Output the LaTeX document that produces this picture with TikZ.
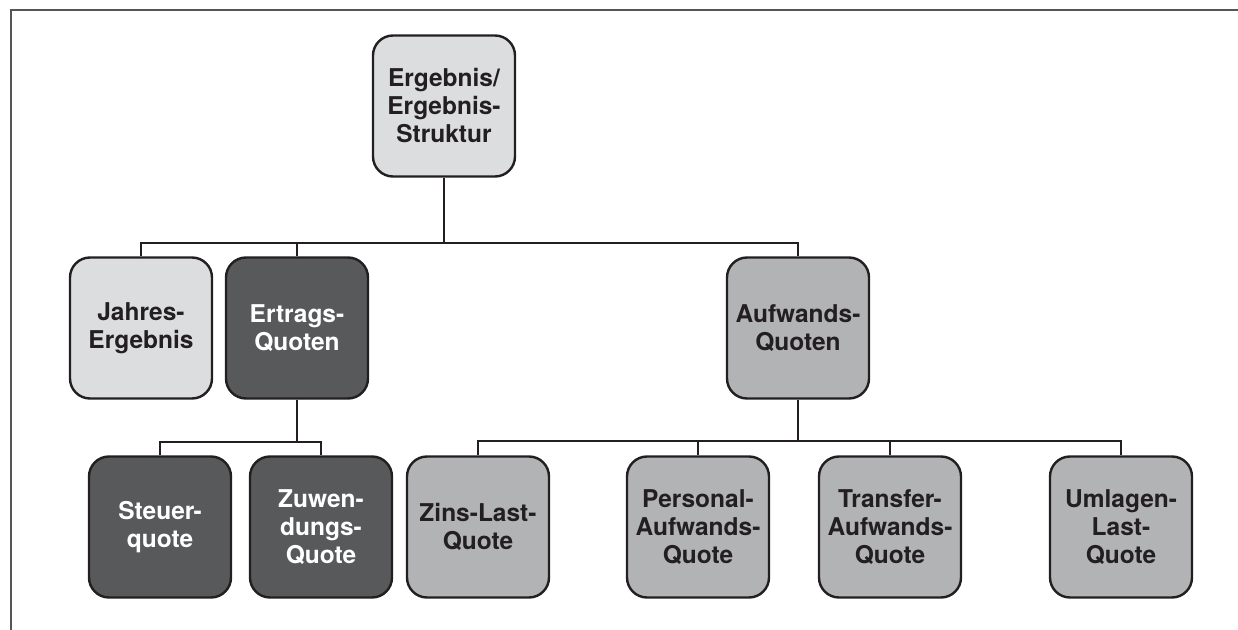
\documentclass[tikz,border=0pt]{standalone}
\usepackage{fontspec}
\setmainfont{TeX Gyre Heros}
\definecolor{lightbox}{HTML}{DCDDDE}
\definecolor{midbox}{HTML}{B2B3B5}
\definecolor{darkbox}{HTML}{58595B}
\definecolor{ink}{HTML}{231F20}
\definecolor{framecol}{HTML}{555555}
\begin{document}
\begin{tikzpicture}[x=1bp,y=-1bp,
  box/.style={draw=ink, line width=2.4bp, rounded corners=20bp,
    minimum width=142bp, minimum height=141bp, inner sep=2bp,
    align=center, font=\fontsize{24.5bp}{28bp}\selectfont\bfseries},
  lightnode/.style={box, fill=lightbox, text=ink},
  midnode/.style={box, fill=midbox, text=ink},
  darknode/.style={box, fill=darkbox, text=white},
  conn/.style={draw=ink, line width=2bp},
  framerule/.style={draw=framecol, line width=1.8bp}]
\useasboundingbox (0,0) rectangle (1238,630);
\draw[framerule] (11,630) -- (11,10) -- (1238,10);

\node[lightnode] (top) at (444,106) {Ergebnis/\\Ergebnis-\\Struktur};

\node[lightnode] (jahres) at (141,328) {Jahres-\\Ergebnis};
\node[darknode] (ertrags) at (297,328) {Ertrags-\\Quoten};
\node[midnode] (aufwands) at (798,328) {Aufwands-\\Quoten};

\node[darknode] (steuer) at (160,527) {Steuer-\\quote};
\node[darknode] (zuwend) at (321,527) {Zuwen-\\dungs-\\Quote};
\node[midnode] (zins) at (478,527) {Zins-Last-\\Quote};
\node[midnode] (personal) at (698,527) {Personal-\\Aufwands-\\Quote};
\node[midnode] (transfer) at (890,527) {Transfer-\\Aufwands-\\Quote};
\node[midnode] (umlagen) at (1121,527) {Umlagen-\\Last-\\Quote};

\coordinate (bus1) at (444,243);
\coordinate (bus2) at (297,442);
\coordinate (bus3) at (798,441);

\draw[conn] (top.south) -- (top.south |- bus1);
\draw[conn] (jahres.north) |- (aufwands.north |- bus1) -- (aufwands.north);
\draw[conn] (ertrags.north) -- (ertrags.north |- bus1);

\draw[conn] (ertrags.south) -- (ertrags.south |- bus2);
\draw[conn] (steuer.north) |- (zuwend.north |- bus2) -- (zuwend.north);

\draw[conn] (aufwands.south) -- (aufwands.south |- bus3);
\draw[conn] (zins.north) |- (umlagen.north |- bus3) -- (umlagen.north);
\draw[conn] (personal.north) -- (personal.north |- bus3);
\draw[conn] (transfer.north) -- (transfer.north |- bus3);
\end{tikzpicture}
\end{document}
